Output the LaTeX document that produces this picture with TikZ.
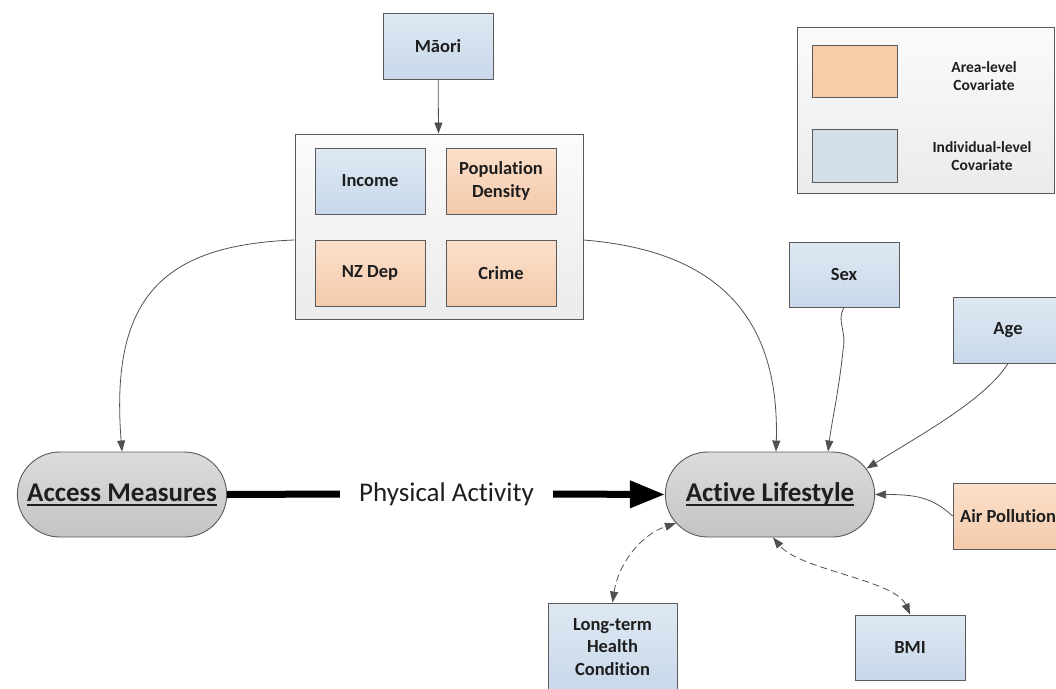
\documentclass[tikz,border=0pt]{standalone}
\usepackage{fontspec}
\setmainfont{Carlito}[Ligatures=NoCommon]
\usetikzlibrary{arrows.meta,shapes.misc,calc}

\definecolor{edgecol}{HTML}{5A5A5A}
\definecolor{linkcol}{HTML}{505050}
\definecolor{indtop}{HTML}{DEE8F2}
\definecolor{indbot}{HTML}{C8D8EA}
\definecolor{areatop}{HTML}{FBE0CB}
\definecolor{areabot}{HTML}{F3CAAB}
\definecolor{pilltop}{HTML}{DCDCDC}
\definecolor{pillbot}{HTML}{C4C4C4}
\definecolor{paneltop}{HTML}{FBFBFB}
\definecolor{panelbot}{HTML}{EBEBEB}
\definecolor{keyarea}{HTML}{F6CCA9}
\definecolor{keyind}{HTML}{D3DEE8}
\definecolor{textcol}{HTML}{1E1E1E}

\newcommand{\lblfont}{\bfseries\fontsize{18.5}{22.5}\selectfont}
\newcommand{\keyfont}{\bfseries\fontsize{15.5}{17.5}\selectfont}
\newcommand{\pillfont}{\bfseries\fontsize{27}{30}\selectfont}
\newcommand{\pafont}{\fontsize{27}{30}\selectfont}
% heavier underline for the two outcome labels
\newcommand{\thickul}[1]{\setbox0\hbox{#1}\rlap{\rule[-4.5pt]{\wd0}{1.8pt}}\box0}

\begin{document}
\begin{tikzpicture}[x=1pt,y=-1pt,
  every node/.style={text=textcol},
  box/.style={draw=edgecol, line width=0.9pt, minimum width=110pt,
    minimum height=66pt, align=center, font=\lblfont, inner sep=2pt},
  ind/.style={box, top color=indtop, bottom color=indbot},
  area/.style={box, top color=areatop, bottom color=areabot},
  panel/.style={draw=edgecol, line width=0.9pt, top color=paneltop,
    bottom color=panelbot},
  pill/.style={rounded rectangle, draw=edgecol, line width=0.9pt,
    top color=pilltop, bottom color=pillbot, minimum width=216pt,
    minimum height=85pt, font=\pillfont},
  link/.style={draw=linkcol, line width=0.8pt,
    -{Triangle[length=11pt,width=8pt]}},
  assoc/.style={draw=linkcol, line width=0.8pt, dash pattern=on 7pt off 4pt,
    {Triangle[length=11pt,width=8pt]}-{Triangle[length=11pt,width=8pt]}},
  heavy/.style={draw=black, line width=7pt}
]
\useasboundingbox (0,0) rectangle (1056,688);
\clip (0,0) rectangle (1056,688);

% covariate group
\node[panel, minimum width=288pt, minimum height=185pt] (grp) at (439,226.5) {};
\node[ind]  (income) at (370,181) {Income};
\node[area] (popd)   at (501,181) {Population\\Density};
\node[area] (nzdep)  at (370,273) {NZ Dep};
\node[area] (crime)  at (501,273) {Crime};

\node[ind] (maori) at (438,46.5) {Māori};

% outcomes
\node[pill] (acc) at (122,494.5) {\thickul{Access Measures}};
\node[pill] (act) at (770,494.5) {\thickul{Active Lifestyle}};
\node[font=\pafont, minimum width=213pt, inner sep=0pt] (pa) at (446.5,494) {Physical Activity};

% individual and area covariates around the outcome
\node[ind, minimum height=65pt] (sex) at (844,274.5) {Sex};
\node[ind] (age) at (1008,330) {Age};
\node[area] (air) at (1008,516) {Air Pollution};
\node[ind, minimum width=129pt, minimum height=88pt] (lt) at (612.5,647) {Long-term\\Health\\Condition};
\node[ind, minimum height=65pt] (bmi) at (910,647.5) {BMI};

% legend
\node[panel, minimum width=257pt, minimum height=166pt] (key) at (925.5,110) {};
\node[draw=edgecol, line width=0.9pt, fill=keyarea, minimum width=85pt, minimum height=52pt] (keyA) at (854.5,71) {};
\node[draw=edgecol, line width=0.9pt, fill=keyind, minimum width=85pt, minimum height=53pt] (keyI) at (854.5,155.5) {};
\node[font=\keyfont, align=center] (keyAt) at (984,76) {Area-level\\Covariate};
\node[font=\keyfont, align=center] (keyIt) at (982,156) {Individual-level\\Covariate};

% connectors
\draw[link] (maori) -- (grp);
\draw[link] ($(grp.west)+(0,13.5)$) .. controls (160,245) and (110,300) .. (acc.north);
\draw[link] ($(grp.east)+(0,13.5)$) .. controls (710,250) and (780,310) .. ($(act.north)+(6,0)$);
\draw[link] (sex.south) .. controls (836,322) and (847,330) .. (843,350)
  .. controls (839,390) and (832,420) .. ($(act.north)+(58,0)$);
\draw[link] (age.south) .. controls (985,400) and (920,435) .. (act.15);
\draw[link] (air.west) .. controls (932,497) and (915,494.5) .. (act.east);
\draw[assoc] (lt.north) .. controls (618,565) and (640,535) .. (act.197);
\draw[assoc] (bmi.north) .. controls (895,580) and (800,570) .. ($(act.south)+(3,0)$);

\draw[heavy] (acc.east) -- (pa.west);
\draw[heavy, -{Triangle[length=35pt,width=26pt]}] (pa.east) -- (act.west);
\end{tikzpicture}
\end{document}
